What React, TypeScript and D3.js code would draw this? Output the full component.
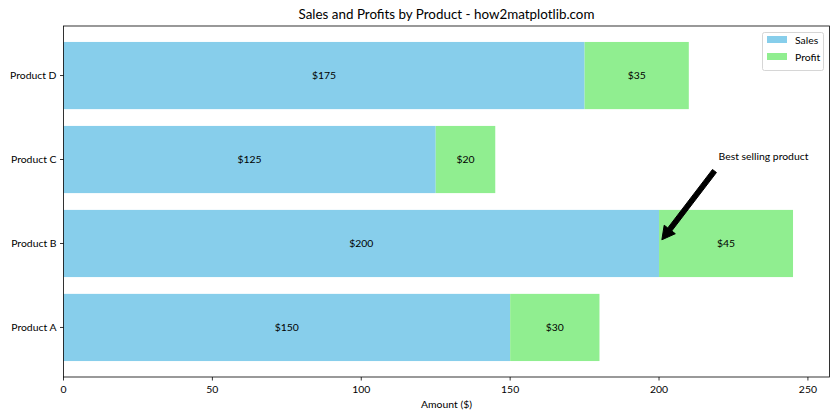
import React from "react";
import * as d3 from "d3";

const products = ["Product A", "Product B", "Product C", "Product D"];
const sales = [150, 200, 125, 175];
const profits = [30, 45, 20, 35];
const xTicks = [0, 50, 100, 150, 200, 250];
const legendItems = ["Sales", "Profit"];

const W = 840, H = 420;
const FONT = "Lato, 'DejaVu Sans', sans-serif";
const m = { left: 63.5, right: 829.5, top: 26, bottom: 377 };
const FS = 10.4;

export default function App() {
  const totals = sales.map((s, i) => s + profits[i]);
  const xMax = d3.max(totals)! * 1.05;
  const x = d3.scaleLinear().domain([0, xMax]).range([m.left, m.right]);
  const y = d3.scaleLinear().domain([-0.59, products.length - 1 + 0.59]).range([m.bottom, m.top]);
  const bh = y(0) - y(0.8);

  // annotation
  const tip = { x: x(200), y: y(1) };
  const txt = { x: x(220), y: y(2) };
  const tail = { x: txt.x - 3, y: txt.y + 10 };
  const dx = tail.x - tip.x, dy = tail.y - tip.y;
  const len = Math.hypot(dx, dy);
  const ux = dx / len, uy = dy / len;
  const s = { x: tip.x + ux * len * 0.05, y: tip.y + uy * len * 0.05 };
  const e = { x: tail.x - ux * len * 0.02, y: tail.y - uy * len * 0.02 };
  const px = -uy, py = ux;
  const hl = 13, hw = 7, sw = 2.5;
  const hb = { x: s.x + ux * hl, y: s.y + uy * hl };
  const arrowPts = [
    [s.x, s.y],
    [hb.x + px * hw, hb.y + py * hw],
    [hb.x + px * sw, hb.y + py * sw],
    [e.x + px * sw, e.y + py * sw],
    [e.x - px * sw, e.y - py * sw],
    [hb.x - px * sw, hb.y - py * sw],
    [hb.x - px * hw, hb.y - py * hw],
  ].map((p) => p.join(",")).join(" ");

  const colors = ["#87CEEB", "#90EE90"];

  return (
    <svg width={W} height={H} style={{ display: "block", position: "absolute", left: 0, top: 0 }} fontFamily={FONT}>
      <rect width={W} height={H} fill="white" />
      <text x={(m.left + m.right) / 2} y={19} textAnchor="middle" fontSize={13.4}>
        Sales and Profits by Product - how2matplotlib.com
      </text>
      {products.map((p, i) => (
        <g key={p}>
          <rect x={x(0)} y={y(i) - bh / 2} width={x(sales[i]) - x(0)} height={bh} fill={colors[0]} />
          <rect x={x(sales[i])} y={y(i) - bh / 2} width={x(sales[i] + profits[i]) - x(sales[i])} height={bh} fill={colors[1]} />
          <text x={x(sales[i] / 2)} y={y(i)} dy="0.35em" textAnchor="middle" fontSize={FS}>${sales[i]}</text>
          <text x={x(sales[i] + profits[i] / 2)} y={y(i)} dy="0.35em" textAnchor="middle" fontSize={FS}>${profits[i]}</text>
          <line x1={m.left - 3.5} x2={m.left} y1={y(i)} y2={y(i)} stroke="black" strokeWidth={0.8} />
          <text x={m.left - 7} y={y(i)} dy="0.35em" textAnchor="end" fontSize={FS}>{p}</text>
        </g>
      ))}
      {xTicks.map((t) => (
        <g key={t}>
          <line x1={x(t)} x2={x(t)} y1={m.bottom} y2={m.bottom + 3.5} stroke="black" strokeWidth={0.8} />
          <text x={x(t)} y={m.bottom + 16} textAnchor="middle" fontSize={FS}>{t}</text>
        </g>
      ))}
      <text x={(m.left + m.right) / 2} y={408} textAnchor="middle" fontSize={FS}>Amount ($)</text>
      <rect x={m.left} y={m.top} width={m.right - m.left} height={m.bottom - m.top} fill="none" stroke="black" strokeWidth={0.8} />
      <polygon points={arrowPts} fill="black" stroke="black" strokeWidth={1} />
      <text x={txt.x} y={txt.y} fontSize={FS}>Best selling product</text>
      <g>
        <rect x={762.5} y={32.5} width={61} height={38} rx={2} fill="white" fillOpacity={0.8} stroke="#cccccc" strokeWidth={0.8} />
        {legendItems.map((l, i) => (
          <g key={l}>
            <rect x={767} y={36 + i * 17} width={20} height={7} fill={colors[i]} />
            <text x={795} y={40 + i * 17} dy="0.35em" fontSize={FS}>{l}</text>
          </g>
        ))}
      </g>
    </svg>
  );
}
